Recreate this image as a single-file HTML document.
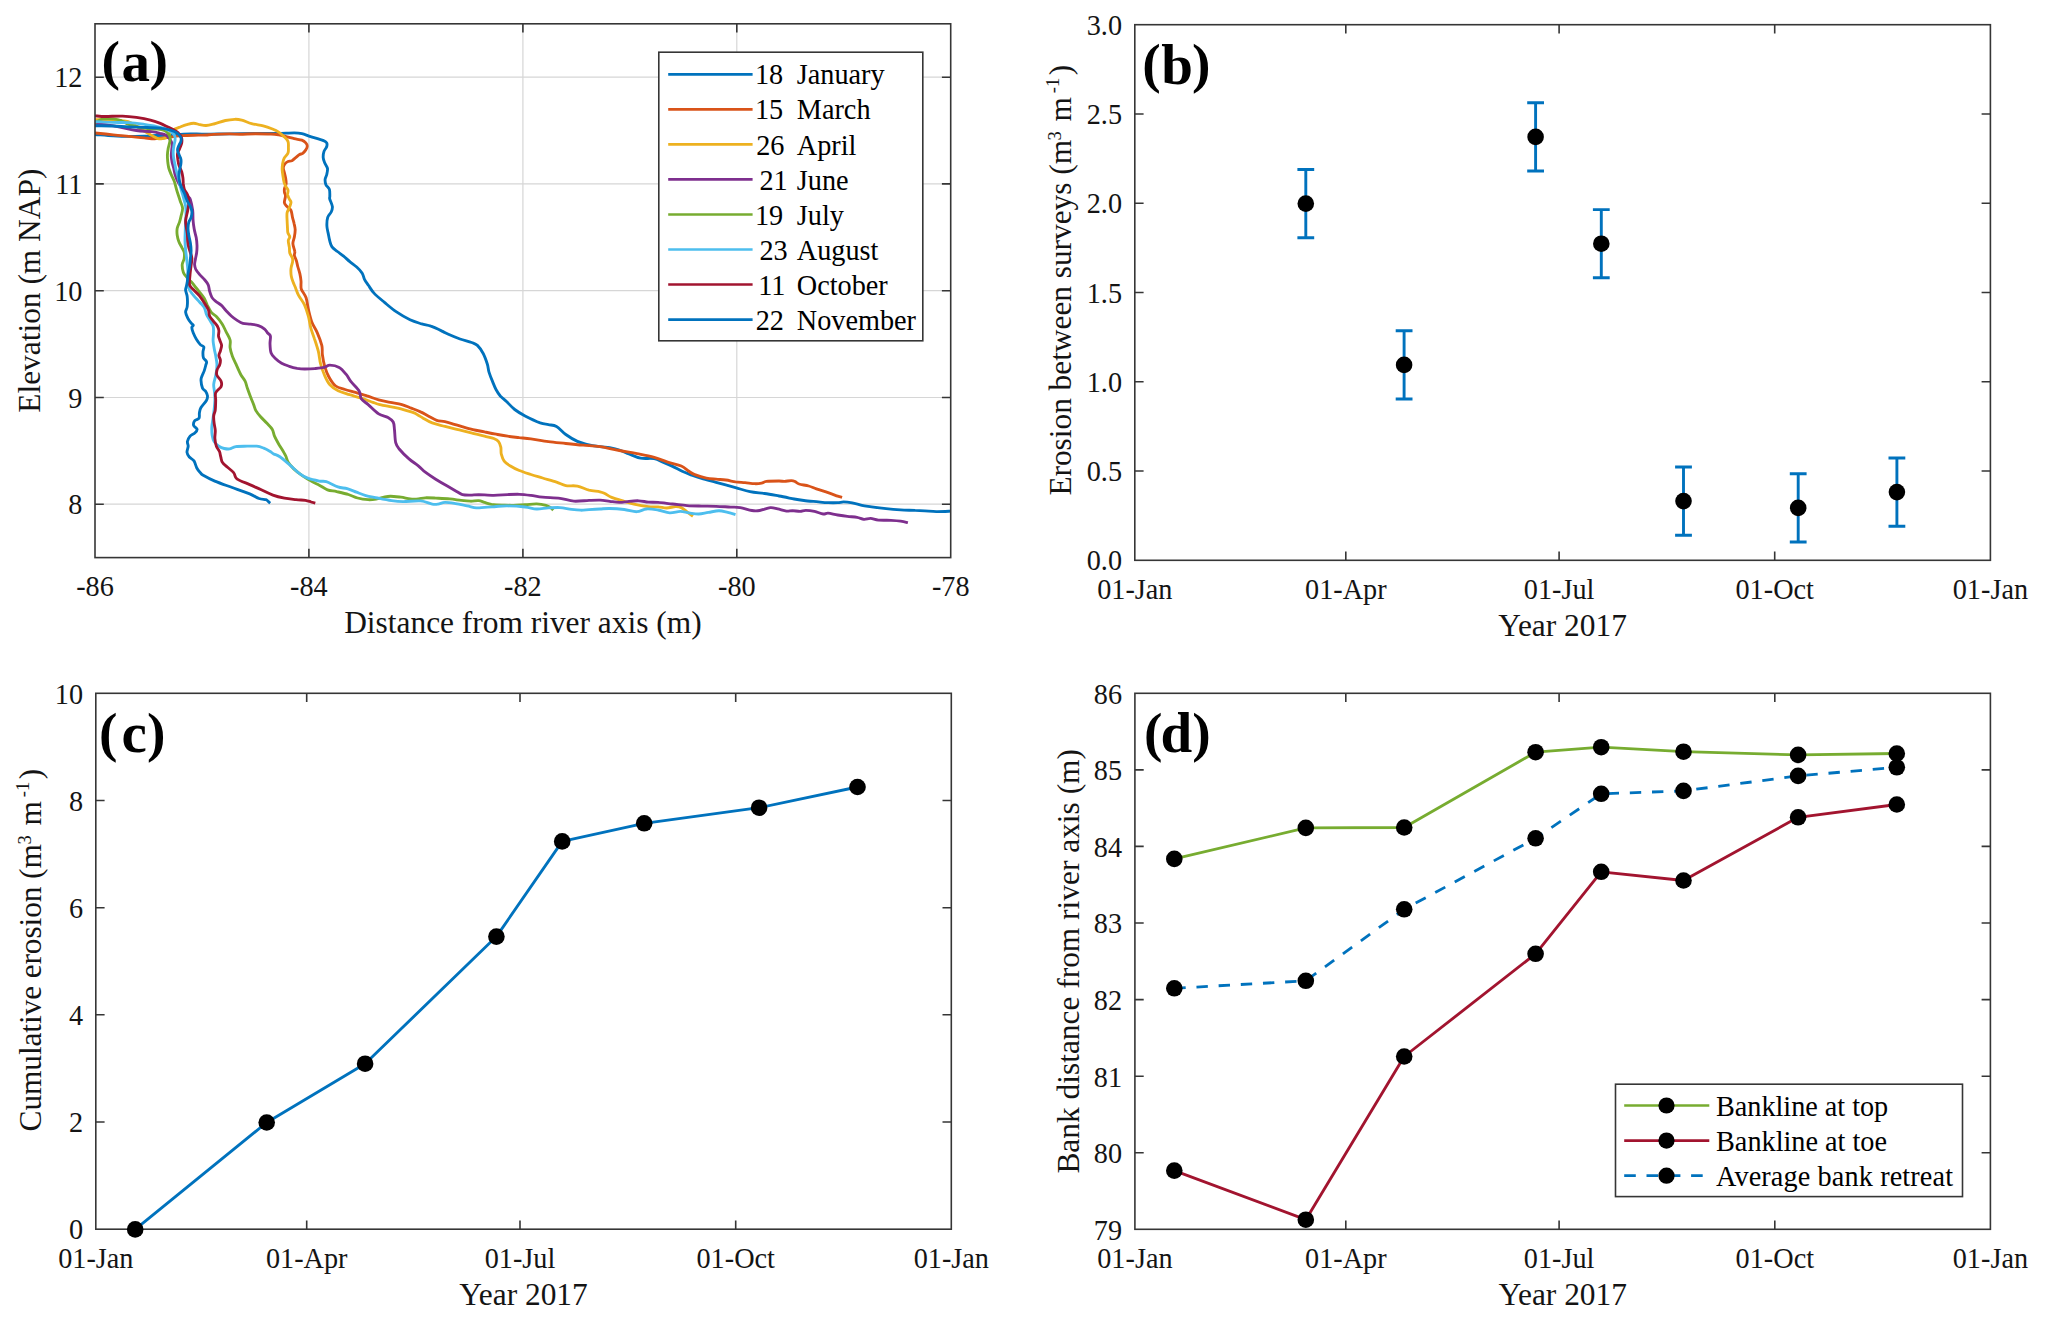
<!DOCTYPE html>
<html lang="en"><head><meta charset="utf-8"><title>Figure</title>
<style>html,body{margin:0;padding:0;background:#fff}svg{display:block}</style></head>
<body>
<svg width="2067" height="1321" viewBox="0 0 2067 1321" font-family="'Liberation Serif', 'Times New Roman', serif">
<rect width="2067" height="1321" fill="#fff"/>
<defs><clipPath id="ca"><rect x="95.0" y="23.8" width="855.7" height="533.8000000000001"/></clipPath></defs>
<line x1="308.9" y1="23.8" x2="308.9" y2="557.6" stroke="#d6d6d6" stroke-width="1.2"/>
<line x1="522.9" y1="23.8" x2="522.9" y2="557.6" stroke="#d6d6d6" stroke-width="1.2"/>
<line x1="736.8" y1="23.8" x2="736.8" y2="557.6" stroke="#d6d6d6" stroke-width="1.2"/>
<line x1="95" y1="504.2" x2="950.7" y2="504.2" stroke="#d6d6d6" stroke-width="1.2"/>
<line x1="95" y1="397.5" x2="950.7" y2="397.5" stroke="#d6d6d6" stroke-width="1.2"/>
<line x1="95" y1="290.7" x2="950.7" y2="290.7" stroke="#d6d6d6" stroke-width="1.2"/>
<line x1="95" y1="183.9" x2="950.7" y2="183.9" stroke="#d6d6d6" stroke-width="1.2"/>
<line x1="95" y1="77.2" x2="950.7" y2="77.2" stroke="#d6d6d6" stroke-width="1.2"/>
<path d="M95 134.5C98 134.7 107.7 135.6 113.2 135.9C118.7 136.2 122.7 136.4 128 136.4C133.3 136.4 141 136.2 145 136.1C149 136 148.9 135.7 152 135.6C155.1 135.5 158.7 135.6 163.5 135.4C168.3 135.2 176.1 134.6 180.6 134.3C185.1 134 186.4 133.8 190.6 133.8C194.8 133.8 199.6 134.2 206 134.2C212.4 134.2 220.8 133.9 229 133.8C237.2 133.7 248.5 133.5 255.5 133.4C262.5 133.3 266.8 133.5 271 133.5C275.2 133.5 277.1 133.4 281 133.3C284.9 133.2 290.7 132.9 294.2 132.9C297.7 132.9 299.3 133 301.9 133.6C304.5 134.2 307.1 135.5 309.7 136.3C312.3 137.2 315.1 138 317.4 138.7C319.7 139.4 322.1 139.9 323.6 140.6C325.2 141.3 326.2 141.9 326.7 142.9C327.2 143.9 327.1 145.4 326.7 146.8C326.2 148.2 324.6 149.6 324 151.4C323.4 153.2 323.1 155.7 323.2 157.6C323.3 159.5 324.1 161.2 324.8 163C325.5 164.8 327.2 166.6 327.5 168.5C327.8 170.4 327.1 172.9 326.7 174.7C326.3 176.5 325.2 177.6 325.1 179.3C325 181 325.2 183 325.9 184.7C326.6 186.4 328.8 187.5 329.4 189.4C330 191.3 329.8 194.7 329.8 196.3C329.9 197.9 329.3 197.2 329.7 198.9C330.1 200.6 332.1 204.4 332.4 206.6C332.6 208.8 332 210.2 331.2 212C330.4 213.8 328.4 215.1 327.7 217.4C327 219.7 326.8 223.4 326.9 226C327 228.6 327.6 230.5 328.1 232.9C328.6 235.3 329.1 238.4 329.7 240.7C330.3 243 330.7 245.1 332 246.9C333.3 248.7 335.5 250 337.4 251.5C339.3 253 341.5 254.4 343.6 256.1C345.7 257.8 347.6 259.8 349.8 261.6C352 263.4 354.6 265.1 356.7 267C358.8 268.9 360.9 271.1 362.2 273.2C363.5 275.3 363.5 277.4 364.5 279.4C365.5 281.4 366.8 283 368.4 285.3C370 287.6 371.3 290.2 374 293.1C376.7 296 380.8 299.3 384.5 302.4C388.2 305.5 391.9 308.8 396.1 311.7C400.4 314.6 405.7 317.8 410 319.8C414.3 321.8 418.2 322.8 421.7 323.9C425.2 325 427.4 324.9 430.9 326.2C434.4 327.4 439.7 330 442.6 331.4C445.5 332.8 445.5 333 448.4 334.3C451.3 335.6 456.1 337.6 460 339C463.9 340.4 468.7 341.4 471.6 342.5C474.5 343.6 475.5 343.6 477.4 345.4C479.3 347.2 481.5 350.4 483.2 353.5C484.9 356.6 486.3 360.9 487.3 364C488.3 367.1 488.1 369.2 489 372.1C489.9 375 491.3 378.5 492.5 381.4C493.7 384.3 494.7 387.1 496 389.5C497.3 391.9 498.6 394 500.3 396C502.1 398 504.1 399.2 506.5 401.5C508.9 403.8 511.6 407.1 514.7 409.5C517.8 411.9 520.9 413.7 525.1 415.9C529.4 418.1 536.3 421.4 540.2 422.9C544.1 424.3 545.7 424 548.4 424.6C551.1 425.2 553.6 424.8 556.5 426.4C559.4 428 562.3 432 565.8 434.5C569.3 437 573.9 439.8 577.4 441.4C580.9 443 582.9 443.4 586.7 444.3C590.5 445.2 596.2 446.1 600 446.6C603.8 447.2 606.5 447 609.7 447.6C612.9 448.2 616.2 448.9 619.4 450C622.6 451.1 625.5 452.5 629 453.9C632.5 455.3 636.4 457.4 640.6 458.2C644.8 459 650.5 458 654.2 458.7C657.9 459.4 659.8 460.8 662.9 462.1C666 463.4 669.4 464.9 672.6 466.4C675.8 467.9 679 469.8 682.2 471.3C685.4 472.8 688.7 474 691.9 475.2C695.1 476.4 697.6 477.3 701.6 478.5C705.6 479.7 710.5 480.9 716.1 482.4C721.8 483.9 729.9 486.2 735.5 487.7C741.1 489.2 745.2 490.6 750 491.6C754.8 492.6 759.7 492.8 764.5 493.5C769.3 494.2 774 495.1 779 496C784 496.9 790.1 498.2 794.2 499C798.4 499.8 799.9 500 803.9 500.5C807.9 501 814.4 501.5 818.4 501.9C822.4 502.3 824.9 502.6 828.1 502.7C831.3 502.8 835.1 502.8 837.7 502.7C840.3 502.6 841.1 501.9 843.5 501.9C845.9 501.9 849.1 502.3 852.2 502.9C855.3 503.5 858.7 504.6 861.9 505.3C865.1 506 867.6 506.2 871.6 506.8C875.6 507.4 881.3 508.2 886.1 508.7C890.9 509.2 895.8 509.6 900.6 509.9C905.4 510.2 911.1 510.2 915.1 510.4C919.1 510.5 921.2 510.6 924.8 510.8C928.3 511 932 511.6 936.4 511.6C940.8 511.7 948.6 511.2 951 511.1" fill="none" stroke="#0072BD" stroke-width="2.85" stroke-linejoin="round" stroke-linecap="butt" clip-path="url(#ca)"/>
<path d="M95 133C98 133.3 107.6 134.2 113.2 134.8C118.8 135.4 123.5 135.8 128.7 136.3C133.9 136.8 139.7 137.5 144.2 137.9C148.7 138.3 151.9 138.8 155.8 138.7C159.7 138.6 164.2 137.9 167.4 137.5C170.6 137.1 172.5 136.6 175.1 136.3C177.7 136 179 135.8 182.9 135.6C186.8 135.4 194.5 135.3 198.4 135.2C202.3 135.1 203.5 135.2 206.1 135C208.7 134.8 209.9 134.5 213.8 134.3C217.7 134.1 224.9 133.9 229.3 133.9C233.7 133.9 235.6 134.2 240 134.2C244.4 134.2 250.3 133.7 255.5 133.7C260.7 133.7 267.1 133.8 271 134C274.9 134.2 276.1 134.4 278.7 134.8C281.3 135.2 283.8 136 286.4 136.7C289 137.3 291.6 138.1 294.2 138.7C296.8 139.3 300 139.5 301.9 140.2C303.8 140.9 304.9 141.9 305.8 142.9C306.7 143.9 307.3 144.8 307.3 146C307.3 147.2 306.6 148.7 305.8 149.9C305 151.1 303.7 152.6 302.7 153.4C301.7 154.2 300.8 153.8 299.6 154.5C298.4 155.2 297 156.6 295.7 157.6C294.4 158.6 293.2 160 291.9 160.7C290.6 161.3 289.2 161 288 161.5C286.8 162 285.7 162.8 284.9 163.8C284.1 164.8 283.4 166.1 283.3 167.7C283.2 169.2 284.1 171.3 284.5 173.1C284.9 174.9 285.4 176.7 285.7 178.5C286 180.3 286.3 182.2 286.1 183.9C285.9 185.6 284.8 187.2 284.5 188.6C284.2 190 284.3 191.3 284.5 192.5C284.7 193.7 285.5 194.3 285.5 196C285.5 197.7 284.1 200.9 284.4 202.7C284.7 204.5 286 205.3 287.1 206.6C288.2 207.9 290.1 208.7 291 210.5C291.9 212.3 292 215.2 292.5 217.4C293 219.6 293.7 221.5 294.1 223.6C294.6 225.7 295.1 227.6 295.2 229.8C295.2 232 294.8 234.5 294.4 236.8C294 239.1 292.8 241.4 292.9 243.8C293 246.2 294.6 249.6 294.8 251.5C295.1 253.4 294.1 253.8 294.4 255.4C294.7 256.9 295.8 258.9 296.4 260.8C297 262.7 297.3 264.8 297.9 267C298.5 269.2 299.4 271.6 299.9 273.9C300.4 276.2 300.8 279 301 280.9C301.2 282.8 300.9 284.1 301 285.5C301.1 286.9 300.6 287.6 301.5 289.6C302.4 291.7 305 294.5 306.1 297.8C307.2 301.1 307.4 305.3 308.4 309.4C309.4 313.5 310.4 318.3 311.9 322.2C313.4 326.1 315.5 328.7 317.2 332.6C318.9 336.5 320.9 341.7 321.8 345.4C322.7 349.1 321.9 351.2 322.4 354.7C322.9 358.2 323.6 362.6 324.7 366.3C325.8 370 327 373.4 328.8 376.7C330.6 380 333 383.9 335.7 386C338.4 388.1 341.7 388.4 345 389.5C348.3 390.6 351.8 391.3 355.5 392.4C359.2 393.5 363.2 394.6 367.1 395.9C371 397.1 374.8 398.8 378.7 399.9C382.6 401 386.4 401.5 390.3 402.3C394.2 403.1 398.4 403.6 401.9 404.6C405.4 405.6 408.1 406.9 411.2 408.1C414.3 409.3 417.6 410.5 420.5 411.9C423.4 413.2 425.9 414.8 428.6 416.2C431.3 417.6 434 419.4 436.7 420.3C439.4 421.2 442 420.9 444.9 421.6C447.8 422.3 451.5 423.5 454.2 424.3C456.9 425.1 458.2 425.5 461.3 426.4C464.4 427.3 469 428.7 472.9 429.6C476.8 430.5 480.6 431.1 484.5 431.9C488.4 432.7 492.2 433.5 496.1 434.2C500 434.9 503.8 435.6 507.7 436.2C511.6 436.8 515.4 437.2 519.3 437.7C523.2 438.1 526 438.2 530.9 438.9C535.8 439.6 542.6 440.9 548.4 441.7C554.2 442.5 560 442.9 565.8 443.5C571.6 444.1 577.5 444.7 583.2 445.2C588.9 445.7 594 445.7 600 446.6C606 447.5 612.9 449.3 619.4 450.5C625.9 451.7 632.9 452.8 638.7 453.9C644.5 455 649.4 455.9 654.2 457.3C659 458.7 663.2 460.7 667.7 462.1C672.2 463.6 677.8 464.5 681.3 466C684.8 467.5 686.8 469.9 689 471.3C691.2 472.8 691.9 473.6 694.8 474.7C697.7 475.8 702.8 477.4 706.4 478.1C710 478.9 712.9 478.9 716.1 479.2C719.3 479.5 722.6 479.6 725.8 480C729 480.4 732.3 481.4 735.5 481.9C738.7 482.3 741.9 482.4 745.1 482.7C748.3 483 752 483.6 754.8 483.7C757.5 483.8 759.7 483.5 761.6 483.1C763.5 482.7 763.5 481.8 766.4 481.4C769.3 481 776 481 779 481C782 481 782.5 481.5 784.5 481.4C786.5 481.3 789.5 480.6 791.3 480.6C793.1 480.6 793.9 481 795.2 481.6C796.5 482.2 796.8 483.3 799 484C801.2 484.7 805.8 485.2 808.7 486C811.6 486.8 813.2 487.8 816.4 488.9C819.6 490 824.5 491.5 828.1 492.7C831.7 493.9 835.4 495.3 837.7 496.1C840 496.9 841.4 497.1 842.1 497.3" fill="none" stroke="#D95319" stroke-width="2.85" stroke-linejoin="round" stroke-linecap="butt" clip-path="url(#ca)"/>
<path d="M95 119.7C96.5 119.7 101 119.4 104 119.5C107 119.6 110 119.9 113 120.1C116 120.3 119.5 120.3 122 120.6C124.5 120.8 126.2 121 128 121.6C129.8 122.2 131 122.8 133 124C135 125.2 137.5 127 140 128.5C142.5 130.1 146 132.1 148 133.3C150 134.5 150.3 134.8 151.9 135.6C153.5 136.4 155.8 137.8 157.3 138.3C158.9 138.9 159.9 139 161.2 138.9C162.5 138.8 163.8 138.7 165.1 137.9C166.4 137.2 167.5 135.8 168.9 134.4C170.3 133.1 171.9 131 173.6 129.8C175.3 128.6 176.8 128.2 179 127.4C181.2 126.6 184.2 125.4 186.7 124.7C189.1 124 191.5 123.2 193.7 123.2C195.9 123.2 197.8 124.3 199.9 124.7C202 125.1 203.8 125.6 206.1 125.5C208.4 125.4 210.6 124.8 213.8 124C217 123.2 221.9 121.3 225.4 120.5C228.9 119.7 232 119.4 234.7 119.3C237.4 119.2 238.9 119.4 241.7 120.1C244.5 120.8 248 122.6 251.6 123.6C255.2 124.6 259.7 125 263.2 125.9C266.7 126.8 269.9 128 272.5 129C275.1 130 276.8 130.8 278.7 132.1C280.6 133.4 282.6 135.1 284.1 136.7C285.7 138.2 287.3 139.6 288 141.4C288.7 143.2 288.4 145.7 288.4 147.6C288.4 149.5 288.7 151.2 288 153C287.3 154.8 285 156.6 284.1 158.4C283.2 160.2 282.9 161.9 282.6 163.8C282.3 165.7 282.1 167.9 282.2 170C282.3 172.1 282.7 174.1 283 176.2C283.3 178.3 283.7 180.7 284.1 182.4C284.6 184.1 285.1 185 285.7 186.3C286.3 187.6 287.7 188.7 288 190.1C288.3 191.5 287.4 193.2 287.6 194.8C287.9 196.4 288.9 198.2 289.5 199.4C290.1 200.6 290.9 200.8 291 202C291.1 203.2 290.4 204.8 289.8 206.6C289.2 208.4 287.6 210.5 287.1 212.8C286.7 215.1 287 217.9 287.1 220.5C287.2 223.1 287.4 226.2 287.5 228.3C287.6 230.4 287.5 231.5 287.9 232.9C288.3 234.3 289.7 235.5 289.8 236.8C289.9 238.1 288.4 238.9 288.3 240.7C288.2 242.5 289.1 245.5 289.4 247.6C289.6 249.7 289.3 251.2 289.8 253C290.3 254.8 292.1 256.9 292.5 258.5C292.9 260.1 292.8 260.6 292.5 262.3C292.2 264 291.2 266.2 291 268.5C290.8 270.8 290.9 274 291.3 276.3C291.7 278.6 292.7 280.8 293.3 282.5C293.9 284.2 294.1 284.4 295 286.5C295.9 288.6 297 292.4 298.6 295.4C300.2 298.4 302.8 301.2 304.4 304.7C306 308.2 307.3 312.4 308.4 316.3C309.5 320.2 309.8 324.3 310.8 328C311.8 331.7 313.1 334.5 314.3 338.4C315.6 342.3 317.2 346.9 318.3 351.2C319.4 355.5 319.5 359.9 320.6 364C321.7 368.1 323.1 372.1 324.7 375.6C326.2 379.1 327.7 382.3 329.9 384.8C332.1 387.3 334.8 389.1 338.1 390.7C341.4 392.3 345.8 393.4 349.7 394.7C353.6 395.9 357.4 396.9 361.3 398.2C365.2 399.5 369.8 401.2 372.9 402.3C376 403.4 376.8 403.8 379.9 404.6C383 405.4 388 406.2 391.5 406.9C395 407.6 397.2 407.9 400.9 408.9C404.6 409.9 410.6 411.6 413.5 412.7C416.4 413.8 416.8 414.4 418.3 415.3C419.9 416.2 420.5 416.6 422.8 417.9C425.1 419.2 428.5 421.5 432.2 422.9C435.9 424.3 440.1 425.1 445 426.4C449.9 427.6 456.7 429.2 461.3 430.4C465.9 431.5 469 432.3 472.9 433.3C476.8 434.3 481 435.3 484.5 436.2C488 437.1 491.5 437.6 493.8 438.5C496.1 439.4 497.2 439.9 498.4 441.4C499.6 442.8 500.3 445.1 500.8 447.2C501.3 449.3 500.7 451.9 501.3 454.2C501.9 456.5 502.8 459.3 504.2 461.2C505.6 463.1 507.5 464.2 510 465.8C512.5 467.4 515.8 469.1 519.3 470.5C522.8 471.9 527 473.2 530.9 474.5C534.8 475.8 538.3 476.7 542.6 478C546.9 479.3 552.6 480.8 556.5 482.1C560.4 483.4 562.3 484.9 565.8 485.6C569.3 486.3 573.5 485.3 577.4 486.1C581.3 486.9 585.2 489.2 589 490.2C592.8 491.1 597.4 491.2 600 491.8C602.6 492.4 602.9 492.6 604.8 493.5C606.7 494.4 608.4 496.1 611.6 497.4C614.8 498.7 620.5 500.2 624.2 501.3C627.9 502.4 629.9 503.3 633.9 504.2C637.9 505.1 644.4 506.2 648.4 506.6C652.4 507.1 655 506.7 658.1 506.9C661.2 507.1 663.9 508.1 666.8 508C669.7 507.9 673.1 506.7 675.5 506.6C677.9 506.5 679.4 506.7 681.3 507.6C683.2 508.5 685.2 510.4 687.1 511.9C689 513.3 691.9 515.6 692.9 516.3" fill="none" stroke="#EDB120" stroke-width="2.85" stroke-linejoin="round" stroke-linecap="butt" clip-path="url(#ca)"/>
<path d="M95 124C96.8 124.1 101.2 124.1 105.5 124.7C109.8 125.3 115.8 126.4 121 127.4C126.2 128.4 131.2 129.8 136.4 130.5C141.6 131.2 148 131.2 151.9 131.7C155.8 132.2 157.4 132.7 159.7 133.3C162 133.9 164.2 134.2 165.9 135.2C167.6 136.1 168.7 137.6 169.7 139C170.7 140.4 171.8 141.9 172.1 143.7C172.4 145.5 171.8 147.8 171.7 149.9C171.6 152 171.2 154 171.3 156.1C171.4 158.2 171.7 160.4 172.1 162.3C172.5 164.2 173.1 165.6 173.6 167.7C174.1 169.8 174.4 172.5 175.1 174.7C175.8 176.9 176.5 178.8 177.5 180.8C178.5 182.9 179.8 185 181 187C182.2 189 183.8 191.3 185 193C186.2 194.7 187.6 195.9 188.5 197C189.4 198.1 189.7 197.3 190.4 199.6C191.1 201.8 192.2 207 192.7 210.5C193.1 214 192.8 217.4 193.1 220.5C193.3 223.6 193.7 226.2 194.2 229.1C194.7 231.9 195.7 234.9 196.2 237.6C196.7 240.3 196.9 242.7 197 245.3C197.1 247.9 196.9 250.7 196.6 253C196.3 255.3 195.7 257.2 195.4 259.2C195.1 261.1 194.5 263 194.6 264.7C194.7 266.4 195 267.6 195.8 269.3C196.7 271 198.3 273 199.7 274.7C201.1 276.4 202.9 277.7 204.3 279.4C205.7 281.1 207.3 282.8 208.2 284.8C209.1 286.8 209 289.1 209.6 291.2C210.2 293.3 210.9 295.7 211.9 297.4C212.9 299.1 214.2 300 215.8 301.3C217.4 302.6 219.5 303.6 221.2 305.1C222.9 306.6 224.2 308.7 225.9 310.5C227.6 312.3 229.4 314.3 231.3 316C233.2 317.7 235.6 319.4 237.5 320.6C239.4 321.8 240.7 322.7 242.9 323.3C245.1 323.9 248 323.7 250.6 324.1C253.2 324.5 256.1 324.8 258.4 325.6C260.7 326.4 263.1 327.9 264.6 329.1C266.1 330.3 266.6 331.8 267.6 333C268.6 334.2 270 334.3 270.4 336.1C270.8 337.9 269.9 341 270 343.8C270.1 346.6 270.2 350.7 271.1 353.1C272 355.6 273.6 356.8 275.4 358.5C277.1 360.2 279.3 361.9 281.6 363.2C283.9 364.5 286.7 365.4 289.3 366.3C291.9 367.2 294.5 367.9 297.1 368.4C299.7 368.8 301.9 369 304.8 369C307.8 369 311.6 368.9 314.8 368.6C318 368.3 321.6 368 324.1 367.4C326.6 366.8 327.4 365.1 329.9 365.1C332.4 365.1 336.5 365.8 339.2 367.4C341.9 368.9 344.3 372.1 346.2 374.4C348.1 376.7 348.7 378.7 350.8 381.4C352.9 384.1 357.2 387.8 359 390.7C360.8 393.6 359.8 396.5 361.3 398.8C362.8 401.1 365.3 402.1 368.2 404.6C371.1 407.1 375.4 411.8 378.7 413.9C382 416 385.6 416 388 417.4C390.4 418.8 392.1 419.9 393.2 422C394.3 424.1 394.1 426.6 394.5 430C394.9 433.4 394.9 439.4 395.7 442.6C396.5 445.8 397 446.3 399.2 449C401.4 451.7 405.8 456.1 409 458.9C412.2 461.7 415.6 463.6 418.3 465.8C421 468 422.4 470 425.3 472.2C428.2 474.4 432 476.9 435.7 479.2C439.4 481.5 443.8 484.1 447.3 486.1C450.8 488.1 454.1 490 456.6 491.4C459.1 492.8 460.1 494 462.4 494.6C464.7 495.2 467.9 495.1 470.6 495.1C473.3 495.1 474.8 494.6 478.7 494.6C482.6 494.7 489 495.4 493.8 495.4C498.6 495.4 503.4 494.8 507.7 494.6C511.9 494.4 515.4 494.2 519.3 494.3C523.2 494.4 527 494.9 530.9 495.4C534.8 495.9 537.8 496.7 542.6 497.2C547.5 497.7 554.8 497.6 560 498.3C565.2 499 569.1 500.9 573.9 501.2C578.7 501.5 584.6 500.6 589 500.4C593.4 500.2 596.5 500 600 500.1C603.5 500.2 606.5 500.9 609.7 501.3C612.9 501.7 616.2 502.4 619.4 502.4C622.6 502.4 625.8 501.6 629 501.3C632.2 501 635.5 500.7 638.7 500.8C641.9 500.9 645.2 501.8 648.4 502.1C651.6 502.4 654.1 502.1 658.1 502.4C662.1 502.7 667.8 503.5 672.6 504C677.4 504.5 682.3 505.2 687.1 505.6C691.9 506 696.8 506 701.6 506.1C706.4 506.2 711.3 506.1 716.1 506.3C720.9 506.5 726.6 506.9 730.6 507.1C734.6 507.3 736.8 507 740.3 507.6C743.8 508.2 748.7 510 751.9 510.5C755.1 511 756.6 511 759.7 510.5C762.8 510 767.3 507.9 770.3 507.6C773.3 507.3 775 508.3 777.7 508.9C780.4 509.5 784 510.8 786.4 511.1C788.8 511.4 790 510.6 792.3 510.6C794.6 510.7 797.8 511.4 800 511.4C802.2 511.4 803.4 510.4 805.8 510.4C808.2 510.4 811.6 510.8 814.5 511.4C817.4 512 820.9 513.7 823.2 514C825.5 514.3 825.7 512.9 828.1 513.1C830.5 513.3 834.5 514.5 837.7 515C840.9 515.5 844.2 516 847.4 516.4C850.6 516.8 854.4 516.9 857.1 517.4C859.9 517.9 861.6 519.1 863.9 519.3C866.1 519.5 868.2 518.3 870.6 518.4C873 518.5 875 519.8 878.4 520.1C881.8 520.4 887.3 520.1 891 520.3C894.7 520.5 897.8 520.7 900.6 521.1C903.4 521.5 906.7 522.4 907.9 522.7" fill="none" stroke="#7E2F8E" stroke-width="2.85" stroke-linejoin="round" stroke-linecap="butt" clip-path="url(#ca)"/>
<path d="M95 122.6C95.7 122.2 97.6 121.1 99 120.5C100.4 119.9 100.8 119.2 103.2 118.9C105.6 118.6 110.2 118.6 113.2 118.9C116.2 119.2 118.4 119.6 121 120.5C123.6 121.4 124.8 123 128.7 124.3C132.6 125.6 139.3 127.4 144.2 128.2C149.1 129 154.8 128.6 158.1 129C161.4 129.4 162.6 129.7 164.3 130.5C166 131.3 167.2 132.4 168.2 133.6C169.2 134.8 169.8 136.1 170.1 137.5C170.3 138.9 170 140.4 169.7 142.2C169.4 144 168.6 146.1 168.2 148.3C167.8 150.5 167.5 153 167.4 155.3C167.3 157.6 167.6 160.1 167.8 162.3C168.1 164.5 168.3 166.4 168.9 168.5C169.5 170.6 170.4 172.5 171.3 174.7C172.2 176.9 173.6 179.3 174.4 181.6C175.2 183.9 175.7 186.4 176.3 188.6C176.9 190.8 177.5 192.7 178.2 194.8C178.9 196.9 179.6 199 180.3 201.2C181 203.4 182.5 205.8 182.6 208.2C182.7 210.6 181.6 213.6 181.1 215.9C180.6 218.2 180.2 220 179.5 222.1C178.8 224.2 177.6 226.1 177.2 228.3C176.8 230.5 176.9 233 177.2 235.2C177.5 237.4 178 239.3 178.8 241.4C179.6 243.5 181 245.8 181.9 247.6C182.8 249.4 183.8 250.5 184.2 252.3C184.6 254.1 184.5 256.4 184.2 258.5C183.9 260.6 182.3 262.4 182.2 264.7C182.1 267 182.6 270.2 183.4 272.4C184.2 274.6 185.9 276.1 187.3 277.8C188.7 279.5 190.6 281.1 191.9 282.5C193.2 283.9 193.8 285.1 195 286.5C196.2 287.9 197.3 289.2 198.8 291.2C200.3 293.1 202.8 295.9 204.2 298.2C205.6 300.5 206.2 302.8 207.3 305.1C208.5 307.4 209.6 310.2 211.1 312.1C212.6 314 214.8 314.8 216.6 316.7C218.4 318.6 220.4 321.2 222 323.7C223.6 326.1 224.6 328.7 225.9 331.4C227.2 334.1 229.4 337.3 230.1 340C230.8 342.7 229.7 345 230.1 347.7C230.5 350.4 231.4 353.5 232.4 356.2C233.4 358.9 234.8 361.4 235.9 363.9C237 366.3 238.1 369 239 370.9C239.9 372.8 240.3 373.8 241.3 375.5C242.3 377.2 244.1 379.1 245.1 381.2C246.1 383.3 246.5 385.6 247.4 388.2C248.3 390.8 249.5 394 250.5 396.7C251.5 399.4 252.7 402.1 253.6 404.4C254.5 406.7 254.7 408.5 255.9 410.6C257.1 412.7 258.8 414.7 260.6 416.8C262.4 418.9 264.8 420.9 266.7 423C268.6 425.1 270.9 427 272.2 429.2C273.5 431.4 273.4 433.5 274.5 436.1C275.6 438.7 277.6 442 279.1 444.7C280.7 447.4 282.7 450.4 283.8 452.4C284.9 454.4 285.3 454.9 286 456.5C286.7 458.1 286.7 459.9 288 462C289.3 464.1 291.5 466.7 293.8 468.9C296.1 471.1 299 473.3 301.9 475.3C304.8 477.3 308.3 479.5 311.2 481.1C314.1 482.8 316.6 483.8 319.3 485.2C322 486.6 324.6 488.7 327.5 489.8C330.4 490.9 333.2 490.8 336.7 491.6C340.2 492.4 344.9 493.4 348.4 494.5C351.9 495.6 354.3 497.1 357.6 498C360.9 498.9 365 499.5 368.1 499.7C371.2 499.9 373.7 499.5 376.2 499.1C378.7 498.7 380.8 497.9 383.2 497.4C385.6 496.9 387.4 496.2 390.4 496.2C393.3 496.2 397.6 496.8 400.9 497.2C404.2 497.6 407.3 498.6 410.2 498.9C413.1 499.2 415.8 499.1 418.3 498.9C420.8 498.7 422.4 497.9 425.3 497.8C428.2 497.7 431.6 497.9 435.7 498.1C439.8 498.3 445.4 498.5 449.7 498.9C454 499.3 457.8 500 461.3 500.4C464.8 500.8 467.7 501.1 470.6 501.2C473.5 501.2 476.4 500.5 478.7 500.7C481 500.9 482.4 501.8 484.5 502.4C486.6 503 488.6 503.9 491.5 504.4C494.4 504.8 498.2 505 501.9 505.1C505.6 505.2 509.6 505.4 513.5 505.3C517.4 505.2 521.2 504.9 525.1 504.7C529 504.5 533.2 503.8 536.7 503.9C540.2 504 543.7 504.7 546 505.3C548.3 505.9 549.5 506.8 550.7 507.6C551.9 508.4 552.8 509.8 553.2 510.2" fill="none" stroke="#77AC30" stroke-width="2.85" stroke-linejoin="round" stroke-linecap="butt" clip-path="url(#ca)"/>
<path d="M95 121.6C98 121.7 107.6 122.2 113.2 122.4C118.8 122.6 123.5 122.3 128.7 122.6C133.9 122.9 139.7 123.7 144.2 124.3C148.7 124.9 152.6 125.7 155.8 126.3C159 126.9 161.1 127.4 163.5 128.2C165.9 129 168.7 130.1 170.5 131.3C172.3 132.5 173.6 133.8 174.4 135.2C175.2 136.6 175.2 138.1 175.1 139.8C175 141.5 174.3 143.3 174 145.2C173.7 147.1 173.3 149.3 173.2 151.4C173.1 153.5 173.3 155.5 173.6 157.6C173.9 159.7 174.4 161.9 174.8 163.8C175.2 165.7 175.5 167.4 175.9 169.2C176.3 171 177 172.8 177.5 174.7C178 176.6 178.4 178.2 179 180.8C179.6 183.4 180.6 187.3 181.3 190.1C182 192.8 182.7 194.6 183.4 197.3C184.1 200.1 185.3 203.7 185.7 206.6C186.1 209.5 186 212.4 186 215C186 217.6 185.6 219.5 185.5 222C185.4 224.5 185.4 226.6 185.3 229.8C185.2 233 184.9 237.9 185 241.4C185.1 244.9 185.4 247.5 185.7 250.7C186 253.9 186.6 257.8 186.9 260.8C187.2 263.8 187.5 265.6 187.7 268.5C187.9 271.4 188 274.7 188.2 278C188.4 281.3 187.8 285.2 188.7 288.1C189.5 291 191.5 292.8 193.3 295.1C195.1 297.4 197.7 299.9 199.5 302C201.3 304.1 203 305.3 204.2 307.4C205.4 309.5 205.6 312.3 206.5 314.4C207.4 316.5 208.5 317.9 209.6 319.8C210.7 321.7 212.4 323.8 213.1 326C213.8 328.2 213.5 330.6 213.5 333C213.5 335.4 213 338.1 213.1 340.7C213.2 343.3 213.8 345.9 214.2 348.5C214.6 351.1 215.4 353.6 215.8 356.2C216.2 358.8 216.8 361.6 216.9 363.9C217 366.2 216.8 368.1 216.6 370.1C216.4 372.1 216.1 373.6 215.6 376C215.1 378.4 213.9 381.6 213.7 384.3C213.5 387 214.3 389.3 214.5 392C214.7 394.7 215 397.5 214.9 400.5C214.8 403.5 214.4 406.8 214.1 409.8C213.8 412.8 213.4 415.3 213 418.3C212.6 421.3 211.9 424.8 211.8 427.6C211.7 430.5 211.8 433.1 212.2 435.4C212.6 437.7 213 439.8 214.1 441.6C215.2 443.4 217.1 445.1 218.8 446.2C220.5 447.3 222.4 448.1 224.2 448.5C226 448.9 227.7 449.2 229.6 448.9C231.5 448.6 232.8 447.1 235.8 446.6C238.8 446.2 243.9 446.3 247.4 446.2C250.9 446.1 254 445.9 256.7 446.2C259.4 446.5 261.5 447.3 263.7 448.1C265.9 448.9 268.1 450.2 269.8 451.2C271.5 452.2 272 453 273.7 453.9C275.4 454.8 277.1 454.9 279.9 456.8C282.7 458.7 287 462.6 290.3 465.4C293.6 468.2 296.7 471.5 299.6 473.6C302.5 475.7 304.4 476.9 307.7 478.2C311 479.4 316.2 480.5 319.3 481.1C322.4 481.7 323.2 480.7 326.3 481.7C329.4 482.7 334.4 485.7 337.9 486.9C341.4 488.1 344.1 487.8 347.2 488.7C350.3 489.6 353.4 491 356.5 492.2C359.6 493.4 362.3 494.6 365.8 495.6C369.3 496.6 373.1 497.1 377.4 498C381.7 498.9 387.3 500.1 391.6 500.7C395.9 501.3 398.4 501.6 403.2 501.6C408 501.6 415.8 500.5 420.6 500.9C425.4 501.3 429.3 503.6 432.2 504.1C435.1 504.6 436 504.4 438.1 504.1C440.2 503.8 442.1 502.5 445 502.4C447.9 502.3 451.8 503 455.5 503.6C459.2 504.2 463.6 505.2 467.1 505.9C470.6 506.6 473.5 507.6 476.4 507.9C479.3 508.1 481.2 507.6 484.5 507.4C487.8 507.2 492.2 506.8 496.1 506.5C500 506.2 502.9 505.8 507.7 505.9C512.5 506 520.3 506.5 525.1 507C529.9 507.5 532.8 508.9 536.7 509C540.6 509.1 544.5 508.1 548.4 507.9C552.3 507.7 556.1 507.4 560 507.6C563.9 507.9 568.1 509 571.6 509.4C575.1 509.8 578 510.1 580.9 510.2C583.8 510.2 585.8 509.9 589 509.7C592.2 509.5 596.5 509.2 600 509C603.5 508.8 605.7 508.4 609.7 508.5C613.7 508.6 619.7 509 624.2 509.5C628.7 510 633.1 511.8 636.8 511.7C640.5 511.6 642.8 509.3 646.4 509C650 508.7 654.2 509.4 658.1 510C662 510.6 666 512.7 669.7 512.9C673.4 513.1 677.1 511.4 680.3 511.4C683.5 511.4 685.9 512.5 689 512.9C692.1 513.3 695.5 514.1 698.7 514C701.9 513.9 705 512.9 708.4 512.4C711.8 511.9 715.8 510.8 719 510.8C722.2 510.8 725 511.8 727.7 512.4C730.5 513 734.2 514.2 735.5 514.6" fill="none" stroke="#4DBEEE" stroke-width="2.85" stroke-linejoin="round" stroke-linecap="butt" clip-path="url(#ca)"/>
<path d="M95 115.8C96.8 115.9 100.9 116.5 105.5 116.5C110.1 116.5 117.3 115.9 122.5 116.1C127.7 116.2 131.8 116.7 136.4 117.4C141.1 118.1 146.5 119.1 150.4 120.1C154.3 121.1 156.9 122.1 159.7 123.2C162.5 124.3 165.1 125.6 167.4 126.7C169.7 127.8 171.7 128.7 173.6 129.8C175.5 131 177.7 132.2 179 133.6C180.3 135 181.2 136.8 181.7 138.3C182.1 139.9 182 141.2 181.7 142.9C181.4 144.6 180.5 146.5 179.8 148.3C179.1 150.1 177.8 152 177.5 153.8C177.2 155.6 177.6 157.3 177.8 159.2C178.1 161.1 178.3 163.3 179 165.4C179.7 167.5 181 169.5 181.7 171.6C182.3 173.7 182.6 175.7 182.9 177.8C183.2 179.9 183.1 182.1 183.3 184C183.6 185.9 183.7 187.6 184.4 189.4C185.1 191.2 186.8 193.2 187.5 194.8C188.2 196.4 188.3 197.7 188.5 199C188.7 200.3 188.9 200.8 188.8 202.7C188.7 204.6 188.2 207.7 187.7 210.5C187.2 213.3 186 217.2 185.7 219.8C185.4 222.4 185.8 223.7 186.1 226C186.4 228.3 187 231.1 187.3 233.7C187.6 236.3 187.4 239.1 187.7 241.4C187.9 243.7 188.3 245.7 188.8 247.6C189.3 249.5 190 251.2 190.5 253C191 254.8 191.8 256.3 191.9 258.5C192 260.7 191.3 263.2 191 266C190.7 268.8 190.2 271.9 190 275C189.8 278.1 189 282.4 189.6 284.8C190.2 287.2 191.7 287.8 193.3 289.6C195 291.4 197.7 293.6 199.5 295.8C201.3 298 202.7 300.5 204.2 302.8C205.7 305.1 207.5 307.6 208.4 309.8C209.3 312 208.8 314.1 209.6 316C210.4 317.9 212.2 319.7 213.5 321.4C214.8 323.1 216.4 324.4 217.3 326C218.2 327.6 218.7 329 218.9 330.7C219.1 332.4 218.3 334.4 218.5 336.1C218.7 337.8 219.5 339.1 220 340.7C220.5 342.2 221.5 343.7 221.6 345.4C221.7 347.1 220.8 349.1 220.4 350.8C220 352.5 218.9 353.8 218.9 355.4C218.9 356.9 220.3 358.6 220.4 360.1C220.5 361.7 220.3 363 219.7 364.7C219.1 366.4 217.5 368.3 217 370.1C216.5 371.9 216.2 373.5 216.9 375.3C217.6 377.1 220.4 379.3 221.1 381.2C221.8 383.1 222 384.7 221.1 386.6C220.2 388.5 216.6 390.5 215.7 392.8C214.8 395.1 215.8 397.7 215.7 400.5C215.6 403.3 215.6 407.2 215.3 409.8C215 412.4 213.9 413.8 213.7 416C213.5 418.2 213.8 420.6 214.1 423C214.4 425.4 215.2 428.1 215.3 430.7C215.4 433.3 214.7 435.9 214.9 438.5C215.1 441.1 215.6 444 216.4 446.2C217.2 448.4 218.8 449.8 219.5 451.6C220.2 453.4 220.2 455.1 220.8 457C221.4 458.9 220.9 460.5 223 463.1C225.1 465.7 231.1 469.8 233.4 472.4C235.7 475 234.2 476.8 236.9 478.8C239.6 480.8 245.6 482.8 249.7 484.6C253.8 486.4 257.4 488.1 261.3 489.8C265.2 491.6 269 493.7 272.9 495.1C276.8 496.5 280.6 497.4 284.5 498.2C288.4 499 292.6 499.3 296.1 499.7C299.6 500.1 302.9 499.9 305.4 500.3C307.9 500.7 309.5 501.5 311.2 502C312.9 502.5 314.6 503 315.3 503.2" fill="none" stroke="#A2142F" stroke-width="2.85" stroke-linejoin="round" stroke-linecap="butt" clip-path="url(#ca)"/>
<path d="M95 125.7C98 125.8 107.6 125.8 113.2 126C118.8 126.2 123.5 126.8 128.7 127C133.9 127.2 139 127.2 144.2 127.4C149.4 127.6 155.3 127.7 159.7 128.2C164.1 128.7 167.5 129.3 170.5 130.2C173.5 131 175.8 132.1 177.5 133.3C179.2 134.5 180.3 136.2 180.9 137.5C181.5 138.8 181.2 140.1 180.9 141.4C180.6 142.7 179.6 143.8 179 145.2C178.4 146.6 177.5 148.3 177.5 149.9C177.5 151.5 178.4 152.9 179 154.5C179.6 156.1 180.6 157.6 180.9 159.2C181.2 160.8 181.1 162.1 180.9 163.8C180.7 165.5 180.1 167.4 179.8 169.2C179.5 171 179.1 172.8 179 174.7C178.9 176.6 179 178.8 179.4 180.8C179.8 182.9 180.5 184.9 181.3 187C182.1 189.1 183.7 191.6 184.4 193.2C185.1 194.8 185 195.2 185.5 196.5C186 197.8 186.5 199.5 187.3 201.2C188.1 202.9 189.6 204.8 190.4 206.6C191.2 208.4 191.8 210.2 191.9 212C192 213.8 191.6 215.7 191.1 217.4C190.6 219.1 189.3 220.3 188.8 222.1C188.3 223.9 188 226.1 188 228.3C188 230.5 188.4 232.8 188.8 235.2C189.2 237.6 190 240.4 190.4 243C190.8 245.6 191.1 248.1 191.1 250.7C191.1 253.3 190.7 255.9 190.4 258.5C190.2 261.1 190 263.6 189.6 266.2C189.2 268.8 188.4 271.3 188 273.9C187.6 276.5 187.6 279.6 187.3 281.7C187 283.8 186.6 285.1 186.3 286.5C186 287.9 185.4 288.7 185.6 290.4C185.8 292.1 186.9 293.9 187.2 296.6C187.5 299.3 187.5 304.1 187.2 306.7C186.9 309.3 185.5 310.2 185.6 312.1C185.7 314 187 316.5 187.9 318.3C188.8 320.1 190.1 321.8 191 322.9C191.9 324 193.2 324.4 193.3 325.2C193.4 326 191.8 326.3 191.8 327.6C191.8 328.9 192.5 331.1 193.3 333C194.1 334.9 195.2 337.3 196.4 339.2C197.6 341.1 199.1 343.3 200.3 344.6C201.5 345.9 203.4 345.7 203.8 346.9C204.2 348.1 203.1 349.8 203 351.6C202.9 353.4 202.8 356.1 203.4 357.8C204 359.5 206.1 360.3 206.5 361.6C206.9 362.9 206.1 363.9 205.7 365.5C205.3 367.1 204.8 369.1 204.2 370.9C203.6 372.6 202.5 374.4 202 376C201.5 377.6 200.9 378.4 201 380.4C201.1 382.4 201.7 386.4 202.5 388.2C203.3 390 204.8 390 205.6 391.3C206.4 392.6 207.4 394.4 207.5 395.9C207.6 397.4 207.5 398.6 206.4 400.5C205.3 402.4 202.2 405.4 201 407.5C199.8 409.6 199.7 411.1 199.4 412.9C199.1 414.7 199.8 417 199 418.3C198.2 419.6 195.7 419.5 194.8 420.7C193.9 421.9 193.2 423.9 193.6 425.3C194 426.7 196.9 427.9 197.1 429.2C197.3 430.5 196 431.9 194.8 433C193.6 434.1 191.3 434.7 190.1 436.1C188.9 437.5 187.7 439.9 187.4 441.6C187.1 443.3 188.3 444.4 188.2 446.2C188.1 448 186.8 450.6 187 452.4C187.2 454.2 188.1 455.6 189.3 457C190.5 458.4 192.8 459.1 194 460.9C195.2 462.7 195.8 466.1 196.8 468C197.8 469.9 199.1 471.3 200.2 472.5C201.3 473.7 200.8 473.9 203.2 475.3C205.6 476.7 210 479.1 214.8 481.1C219.6 483.1 226.4 485.4 232.2 487.5C238 489.6 245.2 492.1 249.7 493.9C254.2 495.7 256.3 497.5 259 498.5C261.7 499.5 264.4 499.2 265.9 499.7C267.4 500.2 267.5 500.8 268.2 501.4C268.9 502 269.9 502.9 270.3 503.2" fill="none" stroke="#0072BD" stroke-width="2.85" stroke-linejoin="round" stroke-linecap="butt" clip-path="url(#ca)"/>
<path d="M308.9 557.6v-8.8M308.9 23.8v8.8M522.9 557.6v-8.8M522.9 23.8v8.8M736.8 557.6v-8.8M736.8 23.8v8.8M95 504.2h8.8M950.7 504.2h-8.8M95 397.5h8.8M950.7 397.5h-8.8M95 290.7h8.8M950.7 290.7h-8.8M95 183.9h8.8M950.7 183.9h-8.8M95 77.2h8.8M950.7 77.2h-8.8" stroke="#363636" stroke-width="1.6" fill="none"/>
<rect x="95" y="23.8" width="855.7" height="533.8" fill="none" stroke="#363636" stroke-width="1.6"/>
<text transform="translate(95 595.6) scale(0.9417 1)" font-size="30" text-anchor="middle" font-weight="normal" fill="#141414">-86</text>
<text transform="translate(308.9 595.6) scale(0.9417 1)" font-size="30" text-anchor="middle" font-weight="normal" fill="#141414">-84</text>
<text transform="translate(522.9 595.6) scale(0.9417 1)" font-size="30" text-anchor="middle" font-weight="normal" fill="#141414">-82</text>
<text transform="translate(736.8 595.6) scale(0.9417 1)" font-size="30" text-anchor="middle" font-weight="normal" fill="#141414">-80</text>
<text transform="translate(950.7 595.6) scale(0.9417 1)" font-size="30" text-anchor="middle" font-weight="normal" fill="#141414">-78</text>
<text transform="translate(82.4 514.2) scale(0.9417 1)" font-size="30" text-anchor="end" font-weight="normal" fill="#141414">8</text>
<text transform="translate(82.4 407.5) scale(0.9417 1)" font-size="30" text-anchor="end" font-weight="normal" fill="#141414">9</text>
<text transform="translate(82.4 300.7) scale(0.9417 1)" font-size="30" text-anchor="end" font-weight="normal" fill="#141414">10</text>
<text transform="translate(82.4 193.9) scale(0.9417 1)" font-size="30" text-anchor="end" font-weight="normal" fill="#141414">11</text>
<text transform="translate(82.4 87.2) scale(0.9417 1)" font-size="30" text-anchor="end" font-weight="normal" fill="#141414">12</text>
<text transform="translate(522.9 633) scale(0.9632 1)" font-size="32.6" text-anchor="middle" font-weight="normal" fill="#141414">Distance from river axis (m)</text>
<text transform="translate(39.6 290.7) rotate(-90) scale(0.9632 1)" font-size="32.6" text-anchor="middle" fill="#141414">Elevation (m NAP)</text>
<text font-weight="bold" fill="#000"><tspan x="101.6" y="79.3" font-size="55.5">(</tspan><tspan x="121.6" y="80.6" font-size="57">a</tspan><tspan x="149.6" y="79.3" font-size="55.5">)</tspan></text>
<rect x="658.8" y="52.2" width="264.0" height="288.6" fill="#fff" stroke="#363636" stroke-width="1.6"/>
<line x1="668.2" y1="74.3" x2="752.6" y2="74.3" stroke="#0072BD" stroke-width="2.7"/>
<text transform="translate(755 84.4) scale(0.9417 1)" font-size="30" fill="#000">18</text>
<text transform="translate(796.8 84.4) scale(0.9417 1)" font-size="30" fill="#000">January</text>
<line x1="668.2" y1="109.3" x2="752.6" y2="109.3" stroke="#D95319" stroke-width="2.7"/>
<text transform="translate(755 119.4) scale(0.9417 1)" font-size="30" fill="#000">15</text>
<text transform="translate(796.8 119.4) scale(0.9417 1)" font-size="30" fill="#000">March</text>
<line x1="668.2" y1="144.4" x2="752.6" y2="144.4" stroke="#EDB120" stroke-width="2.7"/>
<text transform="translate(756.2 154.5) scale(0.9417 1)" font-size="30" fill="#000">26</text>
<text transform="translate(796.8 154.5) scale(0.9417 1)" font-size="30" fill="#000">April</text>
<line x1="668.2" y1="179.4" x2="752.6" y2="179.4" stroke="#7E2F8E" stroke-width="2.7"/>
<text transform="translate(759.5 189.5) scale(0.9417 1)" font-size="30" fill="#000">21</text>
<text transform="translate(796.8 189.5) scale(0.9417 1)" font-size="30" fill="#000">June</text>
<line x1="668.2" y1="214.5" x2="752.6" y2="214.5" stroke="#77AC30" stroke-width="2.7"/>
<text transform="translate(755 224.6) scale(0.9417 1)" font-size="30" fill="#000">19</text>
<text transform="translate(796.8 224.6) scale(0.9417 1)" font-size="30" fill="#000">July</text>
<line x1="668.2" y1="249.5" x2="752.6" y2="249.5" stroke="#4DBEEE" stroke-width="2.7"/>
<text transform="translate(759.5 259.6) scale(0.9417 1)" font-size="30" fill="#000">23</text>
<text transform="translate(796.8 259.6) scale(0.9417 1)" font-size="30" fill="#000">August</text>
<line x1="668.2" y1="284.5" x2="752.6" y2="284.5" stroke="#A2142F" stroke-width="2.7"/>
<text transform="translate(758.3 294.6) scale(0.9417 1)" font-size="30" fill="#000">11</text>
<text transform="translate(796.8 294.6) scale(0.9417 1)" font-size="30" fill="#000">October</text>
<line x1="668.2" y1="319.6" x2="752.6" y2="319.6" stroke="#0072BD" stroke-width="2.7"/>
<text transform="translate(755.7 329.7) scale(0.9417 1)" font-size="30" fill="#000">22</text>
<text transform="translate(796.8 329.7) scale(0.9417 1)" font-size="30" fill="#000">November</text>
<path d="M1305.8 169.5V237.7M1297.4 169.5h16.8M1297.4 237.7h16.8M1404.1 330.8V399M1395.7 330.8h16.8M1395.7 399h16.8M1535.6 102.8V171M1527.2 102.8h16.8M1527.2 171h16.8M1601.3 209.6V277.8M1592.9 209.6h16.8M1592.9 277.8h16.8M1683.5 467V535.2M1675.1 467h16.8M1675.1 535.2h16.8M1798.2 473.8V542M1789.8 473.8h16.8M1789.8 542h16.8M1896.9 458V526.2M1888.5 458h16.8M1888.5 526.2h16.8" stroke="#0072BD" stroke-width="2.9" fill="none"/>
<circle cx="1305.8" cy="203.6" r="8.3" fill="#000"/>
<circle cx="1404.1" cy="364.9" r="8.3" fill="#000"/>
<circle cx="1535.6" cy="136.9" r="8.3" fill="#000"/>
<circle cx="1601.3" cy="243.7" r="8.3" fill="#000"/>
<circle cx="1683.5" cy="501.1" r="8.3" fill="#000"/>
<circle cx="1798.2" cy="507.9" r="8.3" fill="#000"/>
<circle cx="1896.9" cy="492.1" r="8.3" fill="#000"/>
<path d="M1345.8 560.3v-8.8M1345.8 24.7v8.8M1559.1 560.3v-8.8M1559.1 24.7v8.8M1774.7 560.3v-8.8M1774.7 24.7v8.8M1134.8 471h8.8M1990.4 471h-8.8M1134.8 381.8h8.8M1990.4 381.8h-8.8M1134.8 292.5h8.8M1990.4 292.5h-8.8M1134.8 203.2h8.8M1990.4 203.2h-8.8M1134.8 114h8.8M1990.4 114h-8.8" stroke="#363636" stroke-width="1.6" fill="none"/>
<rect x="1134.8" y="24.7" width="855.6" height="535.6" fill="none" stroke="#363636" stroke-width="1.6"/>
<text transform="translate(1134.8 599) scale(0.9417 1)" font-size="30" text-anchor="middle" font-weight="normal" fill="#141414">01-Jan</text>
<text transform="translate(1345.8 599) scale(0.9417 1)" font-size="30" text-anchor="middle" font-weight="normal" fill="#141414">01-Apr</text>
<text transform="translate(1559.1 599) scale(0.9417 1)" font-size="30" text-anchor="middle" font-weight="normal" fill="#141414">01-Jul</text>
<text transform="translate(1774.7 599) scale(0.9417 1)" font-size="30" text-anchor="middle" font-weight="normal" fill="#141414">01-Oct</text>
<text transform="translate(1990.4 599) scale(0.9417 1)" font-size="30" text-anchor="middle" font-weight="normal" fill="#141414">01-Jan</text>
<text transform="translate(1122 570.3) scale(0.9417 1)" font-size="30" text-anchor="end" font-weight="normal" fill="#141414">0.0</text>
<text transform="translate(1122 481) scale(0.9417 1)" font-size="30" text-anchor="end" font-weight="normal" fill="#141414">0.5</text>
<text transform="translate(1122 391.8) scale(0.9417 1)" font-size="30" text-anchor="end" font-weight="normal" fill="#141414">1.0</text>
<text transform="translate(1122 302.5) scale(0.9417 1)" font-size="30" text-anchor="end" font-weight="normal" fill="#141414">1.5</text>
<text transform="translate(1122 213.2) scale(0.9417 1)" font-size="30" text-anchor="end" font-weight="normal" fill="#141414">2.0</text>
<text transform="translate(1122 124) scale(0.9417 1)" font-size="30" text-anchor="end" font-weight="normal" fill="#141414">2.5</text>
<text transform="translate(1122 34.7) scale(0.9417 1)" font-size="30" text-anchor="end" font-weight="normal" fill="#141414">3.0</text>
<text transform="translate(1562.6 636) scale(0.9632 1)" font-size="32.6" text-anchor="middle" font-weight="normal" fill="#141414">Year 2017</text>
<text transform="translate(1071.3 495.6) rotate(-90) scale(0.9632 1)" font-size="32.6" fill="#141414" textLength="369.3" lengthAdjust="spacing">Erosion between surveys (m</text>
<text transform="translate(1060.9 140.6) rotate(-90) scale(1.0000 1)" font-size="18.5" fill="#141414">3</text>
<text transform="translate(1071.3 121.4) rotate(-90) scale(0.9632 1)" font-size="32.6" fill="#141414">m</text>
<text transform="translate(1059.1 93.2) rotate(-90) scale(1.0000 1)" font-size="18.5" fill="#141414">-1</text>
<text transform="translate(1071.3 75.3) rotate(-90) scale(0.9632 1)" font-size="32.6" fill="#141414">)</text>
<text font-weight="bold" fill="#000"><tspan x="1142.2" y="82.3" font-size="55.5">(</tspan><tspan x="1161.2" y="83.6" font-size="57">b</tspan><tspan x="1192" y="82.3" font-size="55.5">)</tspan></text>
<path d="M306.7 1229.2v-8.8M306.7 693.3v8.8M520 1229.2v-8.8M520 693.3v8.8M735.7 1229.2v-8.8M735.7 693.3v8.8M95.8 1122h8.8M951.3 1122h-8.8M95.8 1014.8h8.8M951.3 1014.8h-8.8M95.8 907.7h8.8M951.3 907.7h-8.8M95.8 800.5h8.8M951.3 800.5h-8.8" stroke="#363636" stroke-width="1.6" fill="none"/>
<rect x="95.8" y="693.3" width="855.5" height="535.9" fill="none" stroke="#363636" stroke-width="1.6"/>
<path d="M135.2 1229.4 266.7 1122.5 365.1 1063.7 496.4 936.6 562.2 841.4 644.2 823.3 759.1 807.7 857.5 787" fill="none" stroke="#0072BD" stroke-width="2.85" stroke-linejoin="round" stroke-linecap="butt"/>
<circle cx="135.2" cy="1229.4" r="8.3" fill="#000"/>
<circle cx="266.7" cy="1122.5" r="8.3" fill="#000"/>
<circle cx="365.1" cy="1063.7" r="8.3" fill="#000"/>
<circle cx="496.4" cy="936.6" r="8.3" fill="#000"/>
<circle cx="562.2" cy="841.4" r="8.3" fill="#000"/>
<circle cx="644.2" cy="823.3" r="8.3" fill="#000"/>
<circle cx="759.1" cy="807.7" r="8.3" fill="#000"/>
<circle cx="857.5" cy="787" r="8.3" fill="#000"/>
<text transform="translate(95.8 1268.1) scale(0.9417 1)" font-size="30" text-anchor="middle" font-weight="normal" fill="#141414">01-Jan</text>
<text transform="translate(306.7 1268.1) scale(0.9417 1)" font-size="30" text-anchor="middle" font-weight="normal" fill="#141414">01-Apr</text>
<text transform="translate(520 1268.1) scale(0.9417 1)" font-size="30" text-anchor="middle" font-weight="normal" fill="#141414">01-Jul</text>
<text transform="translate(735.7 1268.1) scale(0.9417 1)" font-size="30" text-anchor="middle" font-weight="normal" fill="#141414">01-Oct</text>
<text transform="translate(951.3 1268.1) scale(0.9417 1)" font-size="30" text-anchor="middle" font-weight="normal" fill="#141414">01-Jan</text>
<text transform="translate(83 1239.4) scale(0.9417 1)" font-size="30" text-anchor="end" font-weight="normal" fill="#141414">0</text>
<text transform="translate(83 1132.2) scale(0.9417 1)" font-size="30" text-anchor="end" font-weight="normal" fill="#141414">2</text>
<text transform="translate(83 1025) scale(0.9417 1)" font-size="30" text-anchor="end" font-weight="normal" fill="#141414">4</text>
<text transform="translate(83 917.9) scale(0.9417 1)" font-size="30" text-anchor="end" font-weight="normal" fill="#141414">6</text>
<text transform="translate(83 810.7) scale(0.9417 1)" font-size="30" text-anchor="end" font-weight="normal" fill="#141414">8</text>
<text transform="translate(83 703.5) scale(0.9417 1)" font-size="30" text-anchor="end" font-weight="normal" fill="#141414">10</text>
<text transform="translate(523.5 1305.1) scale(0.9632 1)" font-size="32.6" text-anchor="middle" font-weight="normal" fill="#141414">Year 2017</text>
<text transform="translate(41 1131.4) rotate(-90) scale(0.9632 1)" font-size="32.6" fill="#141414" textLength="298.2" lengthAdjust="spacing">Cumulative erosion (m</text>
<text transform="translate(30.6 844.6) rotate(-90) scale(1.0000 1)" font-size="18.5" fill="#141414">3</text>
<text transform="translate(41 825.4) rotate(-90) scale(0.9632 1)" font-size="32.6" fill="#141414">m</text>
<text transform="translate(28.8 797.2) rotate(-90) scale(1.0000 1)" font-size="18.5" fill="#141414">-1</text>
<text transform="translate(41 779.3) rotate(-90) scale(0.9632 1)" font-size="32.6" fill="#141414">)</text>
<text font-weight="bold" fill="#000"><tspan x="98.9" y="751.1" font-size="55.5">(</tspan><tspan x="121.5" y="752.4" font-size="57">c</tspan><tspan x="146.9" y="751.1" font-size="55.5">)</tspan></text>
<path d="M1345.8 1229.3v-8.8M1345.8 693.3v8.8M1559.1 1229.3v-8.8M1559.1 693.3v8.8M1774.8 1229.3v-8.8M1774.8 693.3v8.8M1134.9 1152.7h8.8M1990.4 1152.7h-8.8M1134.9 1076.2h8.8M1990.4 1076.2h-8.8M1134.9 999.6h8.8M1990.4 999.6h-8.8M1134.9 923h8.8M1990.4 923h-8.8M1134.9 846.4h8.8M1990.4 846.4h-8.8M1134.9 769.9h8.8M1990.4 769.9h-8.8" stroke="#363636" stroke-width="1.6" fill="none"/>
<rect x="1134.9" y="693.3" width="855.5" height="536" fill="none" stroke="#363636" stroke-width="1.6"/>
<path d="M1174.3 858.9 1305.8 827.9 1404.2 827.5 1535.6 752.2 1601.2 747.2 1683.5 751.7 1798.1 754.9 1896.8 753.5" fill="none" stroke="#77AC30" stroke-width="2.85" stroke-linejoin="round" stroke-linecap="butt"/>
<path d="M1174.3 1170.6 1305.8 1219.7 1404.2 1056.5 1535.6 953.8 1601.2 871.8 1683.5 880.5 1798.1 817.3 1896.8 804.5" fill="none" stroke="#A2142F" stroke-width="2.85" stroke-linejoin="round" stroke-linecap="butt"/>
<path d="M1174.3 988.3 1305.8 980.8 1404.2 909.3 1535.6 838.3 1601.2 793.8 1683.5 790.9 1798.1 775.9 1896.8 767.3" fill="none" stroke="#0072BD" stroke-width="2.8" stroke-linejoin="round" stroke-linecap="butt" stroke-dasharray="11.4 10.8"/>
<circle cx="1174.3" cy="858.9" r="8.3" fill="#000"/>
<circle cx="1305.8" cy="827.9" r="8.3" fill="#000"/>
<circle cx="1404.2" cy="827.5" r="8.3" fill="#000"/>
<circle cx="1535.6" cy="752.2" r="8.3" fill="#000"/>
<circle cx="1601.2" cy="747.2" r="8.3" fill="#000"/>
<circle cx="1683.5" cy="751.7" r="8.3" fill="#000"/>
<circle cx="1798.1" cy="754.9" r="8.3" fill="#000"/>
<circle cx="1896.8" cy="753.5" r="8.3" fill="#000"/>
<circle cx="1174.3" cy="1170.6" r="8.3" fill="#000"/>
<circle cx="1305.8" cy="1219.7" r="8.3" fill="#000"/>
<circle cx="1404.2" cy="1056.5" r="8.3" fill="#000"/>
<circle cx="1535.6" cy="953.8" r="8.3" fill="#000"/>
<circle cx="1601.2" cy="871.8" r="8.3" fill="#000"/>
<circle cx="1683.5" cy="880.5" r="8.3" fill="#000"/>
<circle cx="1798.1" cy="817.3" r="8.3" fill="#000"/>
<circle cx="1896.8" cy="804.5" r="8.3" fill="#000"/>
<circle cx="1174.3" cy="988.3" r="8.3" fill="#000"/>
<circle cx="1305.8" cy="980.8" r="8.3" fill="#000"/>
<circle cx="1404.2" cy="909.3" r="8.3" fill="#000"/>
<circle cx="1535.6" cy="838.3" r="8.3" fill="#000"/>
<circle cx="1601.2" cy="793.8" r="8.3" fill="#000"/>
<circle cx="1683.5" cy="790.9" r="8.3" fill="#000"/>
<circle cx="1798.1" cy="775.9" r="8.3" fill="#000"/>
<circle cx="1896.8" cy="767.3" r="8.3" fill="#000"/>
<text transform="translate(1134.9 1268.1) scale(0.9417 1)" font-size="30" text-anchor="middle" font-weight="normal" fill="#141414">01-Jan</text>
<text transform="translate(1345.8 1268.1) scale(0.9417 1)" font-size="30" text-anchor="middle" font-weight="normal" fill="#141414">01-Apr</text>
<text transform="translate(1559.1 1268.1) scale(0.9417 1)" font-size="30" text-anchor="middle" font-weight="normal" fill="#141414">01-Jul</text>
<text transform="translate(1774.8 1268.1) scale(0.9417 1)" font-size="30" text-anchor="middle" font-weight="normal" fill="#141414">01-Oct</text>
<text transform="translate(1990.4 1268.1) scale(0.9417 1)" font-size="30" text-anchor="middle" font-weight="normal" fill="#141414">01-Jan</text>
<text transform="translate(1122.1 1239.7) scale(0.9417 1)" font-size="30" text-anchor="end" font-weight="normal" fill="#141414">79</text>
<text transform="translate(1122.1 1163.1) scale(0.9417 1)" font-size="30" text-anchor="end" font-weight="normal" fill="#141414">80</text>
<text transform="translate(1122.1 1086.6) scale(0.9417 1)" font-size="30" text-anchor="end" font-weight="normal" fill="#141414">81</text>
<text transform="translate(1122.1 1010) scale(0.9417 1)" font-size="30" text-anchor="end" font-weight="normal" fill="#141414">82</text>
<text transform="translate(1122.1 933.4) scale(0.9417 1)" font-size="30" text-anchor="end" font-weight="normal" fill="#141414">83</text>
<text transform="translate(1122.1 856.8) scale(0.9417 1)" font-size="30" text-anchor="end" font-weight="normal" fill="#141414">84</text>
<text transform="translate(1122.1 780.3) scale(0.9417 1)" font-size="30" text-anchor="end" font-weight="normal" fill="#141414">85</text>
<text transform="translate(1122.1 703.7) scale(0.9417 1)" font-size="30" text-anchor="end" font-weight="normal" fill="#141414">86</text>
<text transform="translate(1562.7 1305.1) scale(0.9632 1)" font-size="32.6" text-anchor="middle" font-weight="normal" fill="#141414">Year 2017</text>
<text transform="translate(1079.3 961.3) rotate(-90) scale(0.9632 1)" font-size="32.6" text-anchor="middle" fill="#141414">Bank distance from river axis (m)</text>
<text font-weight="bold" fill="#000"><tspan x="1144" y="751.1" font-size="55.5">(</tspan><tspan x="1160.5" y="752.4" font-size="57">d</tspan><tspan x="1192.3" y="751.1" font-size="55.5">)</tspan></text>
<rect x="1615.5" y="1084.2" width="347.0" height="112.39999999999986" fill="#fff" stroke="#363636" stroke-width="1.6"/>
<line x1="1624.2" y1="1105.5" x2="1709.3" y2="1105.5" stroke="#77AC30" stroke-width="2.7"/>
<circle cx="1666.5" cy="1105.5" r="8.1" fill="#000"/>
<text transform="translate(1716.0 1115.9) scale(0.9417 1)" font-size="30" fill="#000" textLength="182.9" lengthAdjust="spacing">Bankline at top</text>
<line x1="1624.2" y1="1140.6" x2="1709.3" y2="1140.6" stroke="#A2142F" stroke-width="2.7"/>
<circle cx="1666.5" cy="1140.6" r="8.1" fill="#000"/>
<text transform="translate(1716.0 1151) scale(0.9417 1)" font-size="30" fill="#000" textLength="181.6" lengthAdjust="spacing">Bankline at toe</text>
<line x1="1624.2" y1="1175.7" x2="1709.3" y2="1175.7" stroke="#0072BD" stroke-width="2.7" stroke-dasharray="11.6 10.7"/>
<circle cx="1666.5" cy="1175.7" r="8.1" fill="#000"/>
<text transform="translate(1716.0 1186.1) scale(0.9417 1)" font-size="30" fill="#000" textLength="251.7" lengthAdjust="spacing">Average bank retreat</text>
</svg>
</body></html>
